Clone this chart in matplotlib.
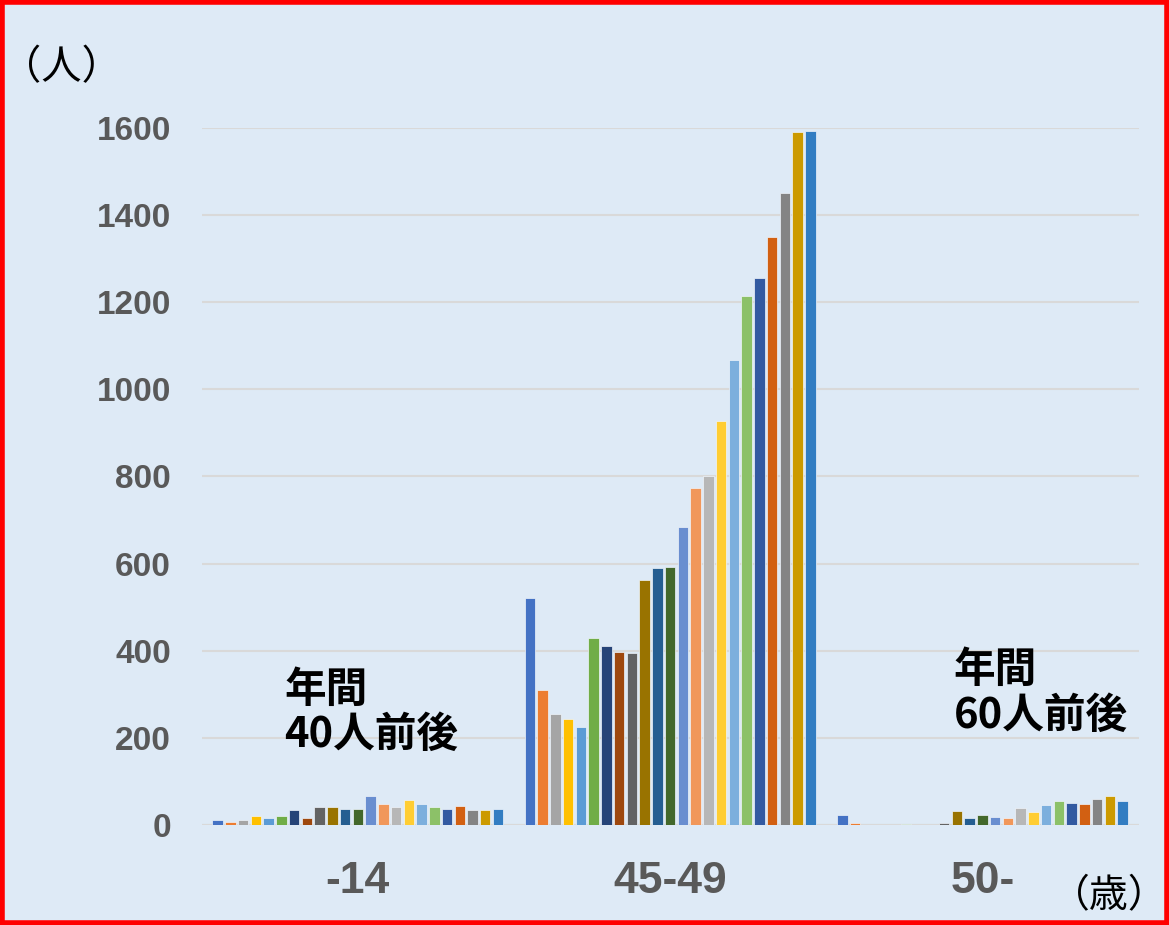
import matplotlib
matplotlib.use("Agg")
import matplotlib.pyplot as plt
import numpy as np

plt.rcParams['font.family'] = ['Liberation Sans', 'Noto Sans CJK JP', 'DejaVu Sans']

# 年齢区分
categories = ['-14', '45-49', '50-']

# 各年の人数（23系列）
under14 = [11, 8, 12, 21, 16, 20, 35, 17, 42, 41, 37, 36, 66, 49, 42, 58, 49, 41, 37, 44, 35, 35, 38]
age45_49 = [522, 310, 255, 243, 224, 430, 412, 396, 395, 563, 590, 593, 683, 773, 800, 926,
            1067, 1213, 1255, 1349, 1450, 1590, 1592]
over50 = [24, 5, 1, 1, 0, 2, 0, 0, 5, 33, 17, 23, 19, 17, 39, 31, 45, 56, 50, 49, 60, 67, 55]

colors = ['#4472C4', '#ED7D31', '#A5A5A5', '#FFC000', '#5B9BD5', '#70AD47',
          '#264478', '#9E480E', '#636363', '#997300', '#255E91', '#43682B',
          '#698ED0', '#F1975A', '#B7B7B7', '#FFCD33', '#7CAFDD', '#8CC168',
          '#335AA1', '#D26012', '#848484', '#CC9A00', '#327DC2']

bg = '#DEEAF6'
fig = plt.figure(figsize=(11.69, 9.25), dpi=100, facecolor=bg)
ax = fig.add_axes([0.1725, 0.108, 0.8015, 0.754])
ax.set_facecolor(bg)

n = len(colors)
slot = 0.0408
width = 0.0336
x = np.arange(len(categories))
for j in range(n):
    vals = [under14[j], age45_49[j], over50[j]]
    ax.bar(x + (j - (n - 1) / 2) * slot, vals, width, color=colors[j],
           edgecolor='#F0F5FB', linewidth=0.5, zorder=3)

ax.set_xlim(-0.5, 2.5)
ax.set_ylim(0, 1600)
ax.set_yticks(range(0, 1601, 200))
ax.yaxis.grid(True, color='#D9D9D9', linewidth=1.5, zorder=0)
ax.axhline(0, color='#D9D9D9', linewidth=1.5, zorder=2)
for s in ax.spines.values():
    s.set_visible(False)
ax.tick_params(length=0)
ax.tick_params(axis='y', pad=22, labelsize=24, labelcolor='#595959')
ax.tick_params(axis='x', pad=26, labelsize=32, labelcolor='#595959')
ax.set_xticks(x)
ax.set_xticklabels(categories)
for lbl in ax.get_yticklabels() + ax.get_xticklabels():
    lbl.set_fontweight('bold')

cjk = ['Noto Sans CJK JP', 'DejaVu Sans']
fig.text(0.001, 0.927, '（人）', fontsize=29, family=cjk, color='black', va='center')
fig.text(0.899, 0.031, '（歳）', fontsize=28, family=cjk, color='black', va='center')
fig.text(0.243, 0.230, '年間\n40人前後', fontsize=30, family=cjk, fontweight='bold',
         color='black', va='center', linespacing=1.1)
fig.text(0.816, 0.251, '年間\n60人前後', fontsize=30, family=cjk, fontweight='bold',
         color='black', va='center', linespacing=1.1)

# 赤い枠
fig.add_artist(plt.Rectangle((0.002, 0.002), 0.996, 0.996, transform=fig.transFigure,
                             fill=False, edgecolor='#FF0000', linewidth=4))

fig.savefig('out.png', dpi=100, facecolor=bg)
